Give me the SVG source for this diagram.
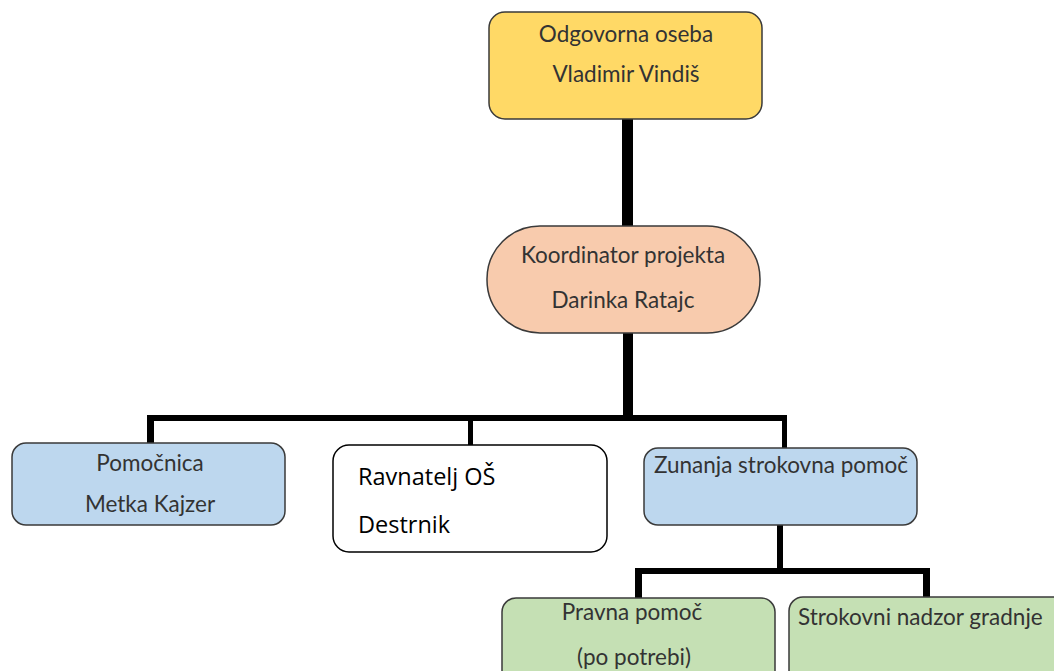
<svg xmlns="http://www.w3.org/2000/svg" width="1054" height="671" viewBox="0 0 1054 671">
<style>
.box{stroke:#3a3a3a;stroke-width:1.5}
.t{font-family:Lato,"Liberation Sans",sans-serif;font-size:22.5px;fill:#333;text-anchor:middle}
.tb{font-family:"Open Sans","Liberation Sans",sans-serif;font-size:23.5px;fill:#000}
.c{fill:#000}
</style>
<rect width="1054" height="671" fill="#fff"/>
<g id="connectors">
<rect class="c" x="622" y="118" width="11" height="108"/>
<rect class="c" x="623" y="333" width="10" height="88"/>
<rect class="c" x="147" y="415" width="640" height="6"/>
<rect class="c" x="147" y="415" width="7" height="29"/>
<rect class="c" x="468" y="418" width="5" height="28"/>
<rect class="c" x="782" y="415" width="5" height="34"/>
<rect class="c" x="777" y="525" width="6" height="49"/>
<rect class="c" x="635" y="568" width="295" height="6"/>
<rect class="c" x="635" y="568" width="7" height="31"/>
<rect class="c" x="923" y="568" width="7" height="30"/>
</g>
<g id="odgovorna">
<rect class="box" x="489" y="12" width="273" height="107" rx="16" fill="#FFD966"/>
<text class="t" x="626" y="42">Odgovorna oseba</text>
<text class="t" x="626" y="82">Vladimir Vindiš</text>
</g>
<g id="koordinator">
<rect class="box" x="487" y="226" width="273" height="107" rx="53" fill="#F8CBAD"/>
<text class="t" x="623" y="263">Koordinator projekta</text>
<text class="t" x="623" y="308">Darinka Ratajc</text>
</g>
<g id="pomocnica">
<rect class="box" x="12" y="443" width="273" height="82" rx="14" fill="#BDD7EE"/>
<text class="t" x="150" y="471">Pomočnica</text>
<text class="t" x="150" y="512">Metka Kajzer</text>
</g>
<g id="ravnatelj">
<rect x="333" y="445" width="274" height="107" rx="16" fill="#fff" stroke="#000" stroke-width="1.5"/>
<text class="tb" x="358" y="485">Ravnatelj OŠ</text>
<text class="tb" x="358" y="533">Destrnik</text>
</g>
<g id="zunanja">
<rect class="box" x="644" y="448" width="273" height="77" rx="14" fill="#BDD7EE"/>
<text class="t" x="781" y="473">Zunanja strokovna pomoč</text>
</g>
<g id="pravna">
<rect class="box" x="502" y="598" width="273" height="90" rx="14" fill="#C5E0B4"/>
<text class="t" x="632" y="620">Pravna pomoč</text>
<text class="t" x="634" y="665">(po potrebi)</text>
</g>
<g id="nadzor">
<rect class="box" x="789" y="597" width="290" height="90" rx="14" fill="#C5E0B4"/>
<text class="t" x="798" y="625" style="text-anchor:start">Strokovni nadzor gradnje</text>
</g>
</svg>
